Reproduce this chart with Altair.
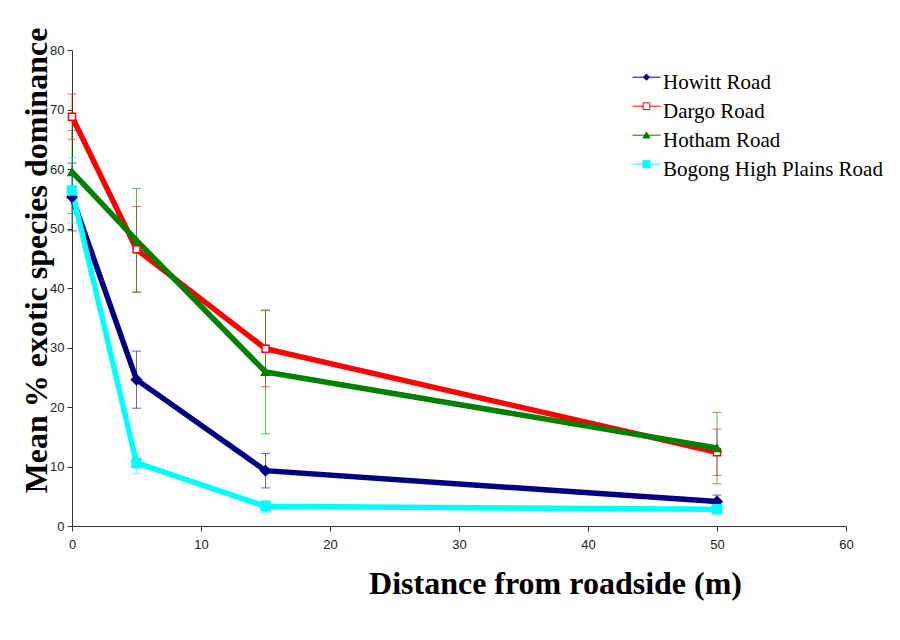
import altair as alt
import pandas as pd

roads = ["Howitt Road", "Dargo Road", "Hotham Road", "Bogong High Plains Road"]
distance = [0, 5, 15, 50]

howitt_mean = [55.3, 24.6, 9.3, 4.1]
howitt_err = [5.7, 4.8, 2.9, 1.1]
dargo_mean = [68.8, 46.5, 29.8, 12.4]
dargo_err = [3.8, 7.2, 6.4, 3.9]
hotham_mean = [59.5, 48.0, 25.9, 13.1]
hotham_err = [7.0, 8.7, 10.4, 6.0]
bogong_mean = [56.4, 10.6, 3.3, 2.8]
bogong_err = [5.5, 1.8, 1.0, 0.5]

x_ticks = [0, 10, 20, 30, 40, 50, 60]
y_ticks = [0, 10, 20, 30, 40, 50, 60, 70, 80]

colors = ["#000080", "#ff0000", "#008000", "#00ffff"]
marker_fill = ["#000080", "#ffffff", "#008000", "#00ffff"]
marker_shape = ["diamond", "square", "triangle-up", "square"]
marker_size = [100, 49, 64, 81]

# legend glyphs: short line with a marker on it (shifted up a little)
s = -0.38
legend_paths = [
    f"M-1,{s}H1M-0.22,{s}L0,{s-0.22}L0.22,{s}L0,{s+0.22}Z",
    f"M-1,{s}H-0.24M0.24,{s}H1M-0.24,{s-0.24}H0.24V{s+0.24}H-0.24Z",
    f"M-1,{s}H1M-0.25,{s+0.2}L0,{s-0.23}L0.25,{s+0.2}Z",
    f"M-1,{s}H1M-0.25,{s-0.25}H0.25V{s+0.25}H-0.25Z",
]

rows = []
for road, means, errs in zip(
    roads,
    [howitt_mean, dargo_mean, hotham_mean, bogong_mean],
    [howitt_err, dargo_err, hotham_err, bogong_err],
):
    for d, m, e in zip(distance, means, errs):
        rows.append({"road": road, "dist": d, "mean": m, "lo": m - e, "hi": m + e})
df = pd.DataFrame(rows)

X_TITLE = "Distance from roadside (m)"
Y_TITLE = "Mean % exotic species dominance"


def X():
    return alt.X(
        "dist:Q",
        title=X_TITLE,
        scale=alt.Scale(domain=[0, 60], nice=False, zero=True),
        axis=alt.Axis(
            values=x_ticks,
            grid=False,
            labelFlush=False,
            titleX=483,
            titleY=67,
            titleAnchor="start",
            titleAlign="center",
            titleBaseline="alphabetic",
            labelPadding=7,
        ),
    )


def Y(field):
    return alt.Y(
        field,
        title=Y_TITLE,
        scale=alt.Scale(domain=[0, 80], nice=False, zero=True),
        axis=alt.Axis(
            values=y_ticks,
            grid=False,
            labelFlush=False,
            titleX=-26,
            titleY=210,
            titleAngle=270,
            titleAlign="center",
            titleBaseline="alphabetic",
            labelPadding=3,
        ),
    )


base = alt.Chart(df)

err_layers = []
line_layers = []
point_layers = []
for i, road in enumerate(roads):
    sub = base.transform_filter(alt.datum.road == road)
    err_layers.append(
        sub.mark_errorbar(ticks=True, size=9, thickness=1, opacity=0.6, color=colors[i]).encode(
            x=X(), y=Y("lo:Q"), y2="hi:Q"
        )
    )
    line_layers.append(
        sub.mark_line(color=colors[i], strokeWidth=5.5).encode(x=X(), y=Y("mean:Q"))
    )
    point_layers.append(
        sub.mark_point(
            shape=marker_shape[i],
            size=marker_size[i],
            filled=True,
            fill=marker_fill[i],
            stroke=colors[i],
            strokeWidth=1.5,
            opacity=1,
        ).encode(x=X(), y=Y("mean:Q"))
    )

leg = alt.Legend(
    title=None,
    orient="none",
    legendX=560,
    legendY=18,
    padding=0,
    symbolSize=784,
    symbolStrokeWidth=1,
    labelFont="Liberation Serif",
    labelFontSize=21,
    labelColor="#000000",
    labelOffset=2,
    rowPadding=4,
    labelLimit=400,
)

legend_layer = base.transform_filter("false").mark_point(
    filled=True, strokeWidth=1, opacity=1
).encode(
    shape=alt.Shape("road:N", scale=alt.Scale(domain=roads, range=legend_paths), legend=leg),
    fill=alt.Fill("road:N", scale=alt.Scale(domain=roads, range=marker_fill), legend=leg),
    stroke=alt.Stroke("road:N", scale=alt.Scale(domain=roads, range=colors), legend=leg),
)

chart = (
    alt.layer(*err_layers, *line_layers, *point_layers, legend_layer)
    .properties(
        width=774,
        height=476,
        autosize=alt.AutoSizeParams(type="none"),
        padding={"left": 64, "top": 42, "right": 40, "bottom": 90},
        background="#ffffff",
    )
    .configure_view(strokeWidth=0)
    .configure_axis(
        domainColor="#333333",
        tickColor="#333333",
        tickSize=5,
        labelFont="Liberation Sans",
        labelFontSize=13,
        labelColor="#222222",
        titleFont="Liberation Serif",
        titleFontWeight="bold",
        titleFontSize=32,
        titleColor="#000000",
    )
    .configure_legend(
        labelFont="Liberation Serif",
        labelFontSize=21,
        labelColor="#000000",
        rowPadding=4,
        symbolStrokeWidth=1,
    )
)

chart.save("out.html", embed_options={"renderer": "svg", "actions": False})
